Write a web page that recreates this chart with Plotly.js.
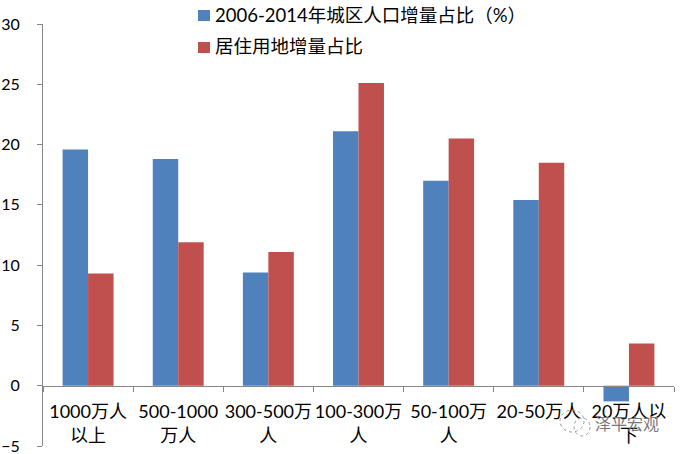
<!DOCTYPE html>
<html><head><meta charset="utf-8"><script src="https://cdn.plot.ly/plotly-3.0.1.min.js"></script></head>
<body style="margin:0;background:#fff"><div id="c" style="width:682px;height:454px"></div>
<script>
const categories=['1000万人<br>以上','500-1000<br>万人','300-500万<br>人','100-300万<br>人','50-100万<br>人','20-50万人','20万人以<br>下'];
const population=[19.6,18.8,9.4,21.1,17,15.4,-1.3];
const land=[9.3,11.9,11.1,25.1,20.5,18.5,3.5];
const yTicks=[-5,0,5,10,15,20,25,30];
const names=['2006-2014年城区人口增量占比（%）','居住用地增量占比'];
const colors=['#4F81BD','#C0504D'];
const watermark='泽平宏观';
const font='Lato,"Noto Sans CJK SC",sans-serif';
const axisColor='#868686';
const W=631,H=446,domainTop=422/446;
const px=(v)=>(v-43)/W, py=(v)=>(H-v)/H;
const bubble=(x0,y0,x1,y1)=>({type:'circle',xref:'paper',yref:'paper',x0:px(x0),x1:px(x1),y0:py(y0),y1:py(y1),line:{color:'#9a9a9a',width:1,dash:'dot'}});
const swatch=(i,y0,y1)=>({type:'rect',xref:'paper',yref:'paper',x0:px(198),x1:px(210),y0:py(y0),y1:py(y1),fillcolor:colors[i],line:{width:0}});
const legendText=(i,y)=>({x:px(213),xref:'paper',xanchor:'left',y:py(y),yref:'paper',yanchor:'middle',text:names[i],showarrow:false,font:{size:18.5,color:'#000'}});
Plotly.newPlot('c',[
 {type:'bar',x:categories,y:population,name:names[0],marker:{color:colors[0]}},
 {type:'bar',x:categories,y:land,name:names[1],marker:{color:colors[1]}}
],{
 width:682,height:454,margin:{l:43,r:8,t:0,b:8},barmode:'group',bargap:0.435,bargroupgap:0,
 paper_bgcolor:'#fff',plot_bgcolor:'#fff',font:{family:font,size:18,color:'#000'},
 xaxis:{anchor:'free',position:5/35*domainTop,side:'bottom',showline:true,linecolor:axisColor,ticks:'outside',tickson:'boundaries',ticklen:5,tickcolor:axisColor,tickfont:{size:18},tickangle:0,zeroline:false,showgrid:false,ticklabelstandoff:10},
 yaxis:{domain:[0,domainTop],range:[-5,30],tickvals:yTicks,showgrid:false,zeroline:false,showline:true,linecolor:axisColor,ticks:'outside',ticklen:5,tickcolor:axisColor,tickfont:{size:16},ticklabelstandoff:14,ticklabeloverflow:'allow'},
 showlegend:false,
 shapes:[swatch(0,10,21),swatch(1,42,53),bubble(560,410,584,432),bubble(574,418,590,436)],
 annotations:[legendText(0,15),legendText(1,46),{x:px(661),xref:'paper',xanchor:'right',y:-3.15,yref:'y',text:watermark,showarrow:false,font:{size:16,color:'#777777'}}]
},{displayModeBar:false});
</script></body></html>
